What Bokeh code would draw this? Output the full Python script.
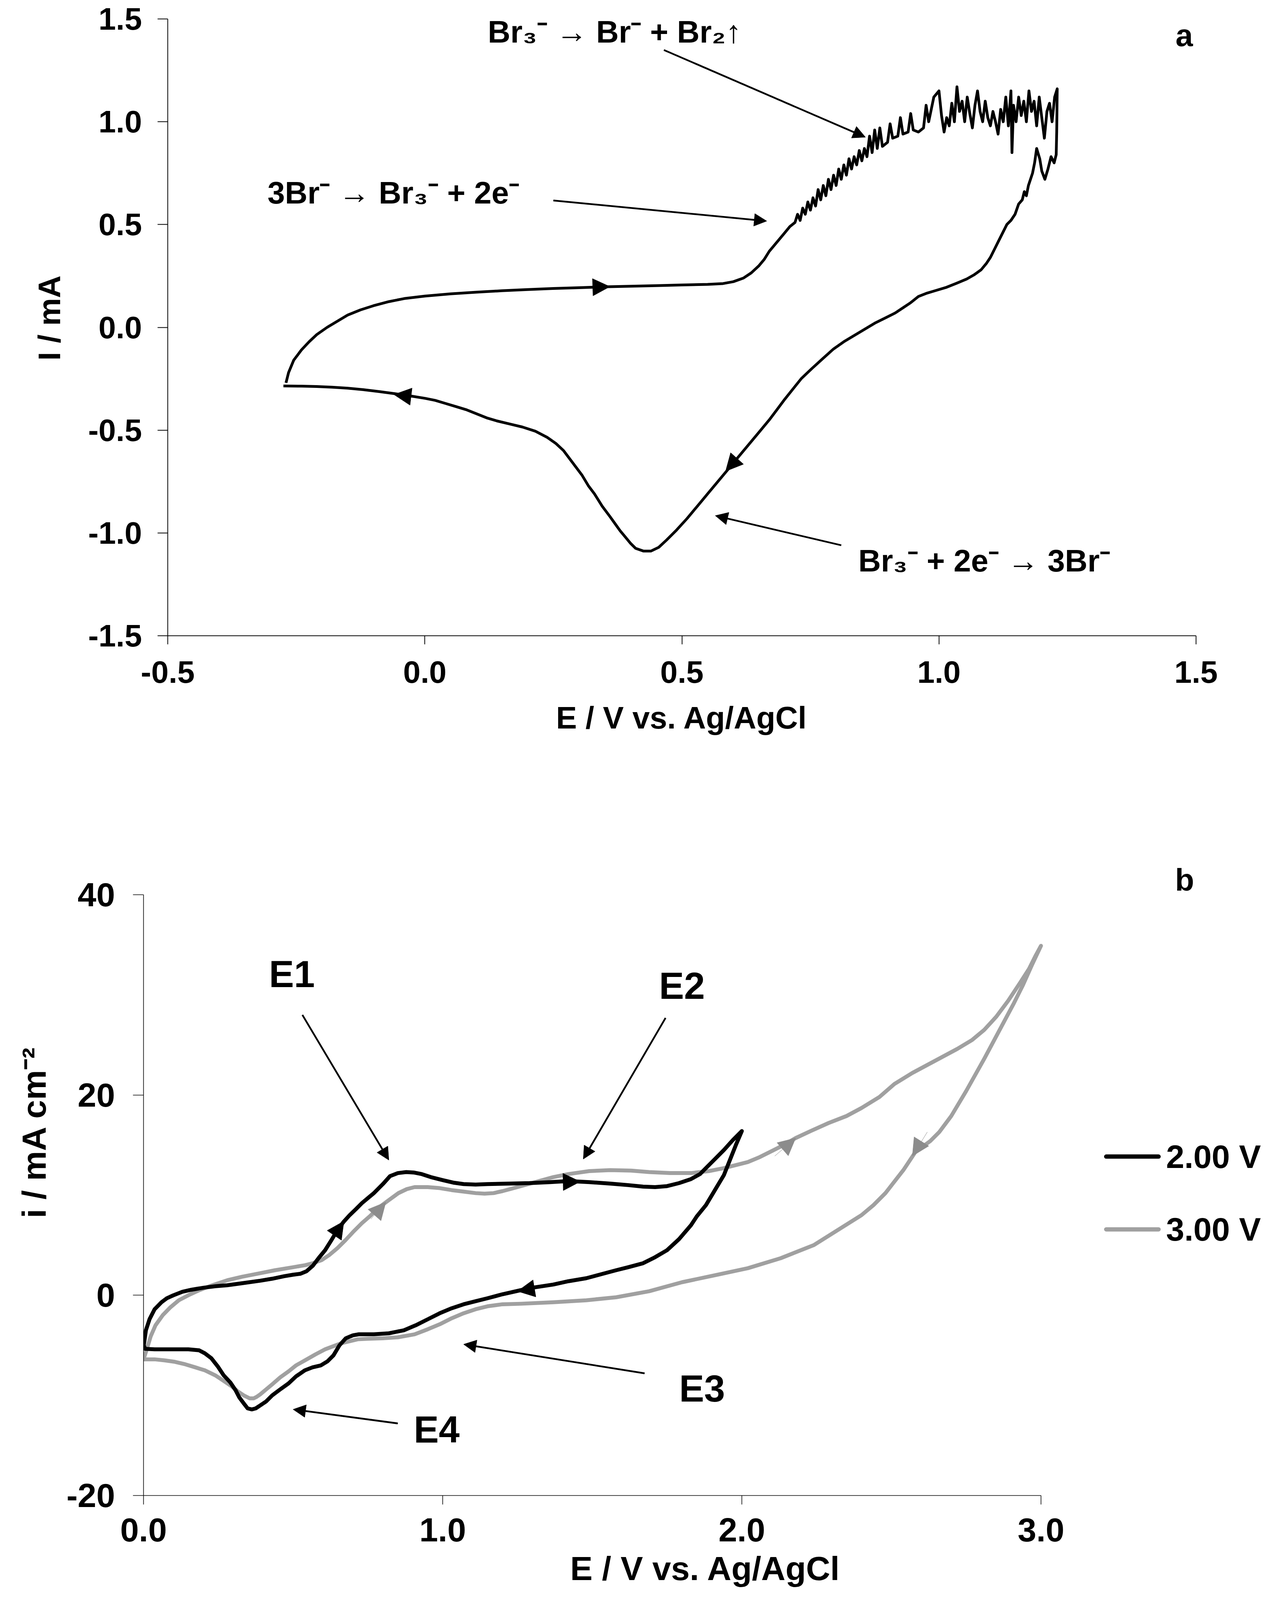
import numpy as np
from bokeh.plotting import figure
from bokeh.models import (Label, Arrow, NormalHead, FixedTicker, NumeralTickFormatter, Range1d)
from bokeh.embed import file_html
from bokeh.resources import INLINE

FONT = "Liberation Sans"

# ---------------- Panel a data ----------------
xticks_a = [-0.5, 0.0, 0.5, 1.0, 1.5]
yticks_a = [-1.5, -1.0, -0.5, 0.0, 0.5, 1.0, 1.5]

E_a_anodic = [-0.27, -0.265, -0.255, -0.24, -0.225, -0.21, -0.19, -0.17, -0.15, -0.125, -0.10, -0.07,
              -0.04, 0.00, 0.05, 0.10, 0.15, 0.20, 0.25, 0.30, 0.35, 0.40, 0.45, 0.50, 0.55, 0.58,
              0.60, 0.62, 0.635, 0.65, 0.66, 0.67, 0.68, 0.69, 0.70, 0.71, 0.72, 0.725, 0.73, 0.735,
              0.74, 0.745, 0.75, 0.755, 0.76, 0.765, 0.77, 0.775, 0.78, 0.785, 0.79, 0.795, 0.80,
              0.805, 0.81, 0.815, 0.82, 0.825, 0.83, 0.835, 0.84, 0.845, 0.85, 0.855, 0.86, 0.865,
              0.87, 0.875, 0.88, 0.885, 0.89, 0.90, 0.905, 0.91, 0.92, 0.925, 0.93, 0.94, 0.945,
              0.95, 0.96, 0.97, 0.975, 0.98, 0.99, 1.00, 1.005, 1.01, 1.015, 1.02, 1.025, 1.03,
              1.035, 1.04, 1.045, 1.05, 1.055, 1.06, 1.065, 1.07, 1.075, 1.08, 1.085, 1.09, 1.095,
              1.10, 1.105, 1.11, 1.115, 1.12, 1.125, 1.13, 1.135, 1.14, 1.142, 1.145, 1.15, 1.155,
              1.16, 1.165, 1.17, 1.175, 1.18, 1.185, 1.19, 1.195, 1.20, 1.205, 1.21, 1.215, 1.22,
              1.225, 1.23]
I_a_anodic = [-0.27, -0.22, -0.16, -0.11, -0.07, -0.035, 0.0, 0.03, 0.06, 0.085, 0.105, 0.125,
              0.14, 0.152, 0.163, 0.171, 0.178, 0.184, 0.189, 0.193, 0.197, 0.200, 0.203, 0.206,
              0.209, 0.213, 0.222, 0.24, 0.265, 0.30, 0.33, 0.37, 0.40, 0.43, 0.46, 0.49, 0.51,
              0.55, 0.52, 0.58, 0.55, 0.61, 0.57, 0.63, 0.59, 0.67, 0.62, 0.69, 0.64, 0.72, 0.67,
              0.74, 0.69, 0.77, 0.72, 0.79, 0.74, 0.82, 0.77, 0.83, 0.79, 0.86, 0.81, 0.87, 0.83,
              0.93, 0.85, 0.96, 0.87, 0.97, 0.88, 0.90, 0.99, 0.92, 0.93, 1.02, 0.94, 0.95, 1.04,
              0.96, 0.95, 0.97, 1.08, 1.00, 1.12, 1.15, 1.03, 0.95, 1.02, 0.98, 1.09, 1.00, 1.17,
              1.05, 1.10, 1.00, 1.12, 1.04, 0.97, 1.08, 1.15, 1.05, 1.00, 1.10, 1.02, 0.98, 1.05,
              1.00, 0.94, 1.06, 1.00, 1.12, 0.98, 1.15, 0.85, 1.08, 1.00, 1.12, 1.03, 1.10, 1.00,
              1.15, 1.05, 1.10, 0.98, 1.12, 1.02, 0.92, 1.05, 1.09, 1.00, 1.12, 1.16]

E_a_cathodic = [1.23, 1.229, 1.228, 1.224, 1.218, 1.212, 1.206, 1.20, 1.196, 1.19, 1.186, 1.182,
                1.178, 1.174, 1.17, 1.166, 1.162, 1.155, 1.148, 1.14, 1.132, 1.124, 1.116, 1.108,
                1.10, 1.092, 1.082, 1.068, 1.054, 1.035, 1.015, 0.995, 0.975, 0.96, 0.945, 0.93,
                0.915, 0.895, 0.875, 0.855, 0.835, 0.815, 0.795, 0.775, 0.753, 0.732, 0.716, 0.70,
                0.685, 0.67, 0.65, 0.63, 0.61, 0.59, 0.57, 0.55, 0.53, 0.51, 0.49, 0.47, 0.455,
                0.44, 0.425, 0.41, 0.40, 0.39, 0.38, 0.37, 0.36, 0.345, 0.33, 0.318, 0.306, 0.294,
                0.282, 0.27, 0.255, 0.238, 0.215, 0.19, 0.165, 0.14, 0.12, 0.10, 0.08, 0.06, 0.04,
                0.02, 0.00, -0.03, -0.06, -0.09, -0.12, -0.15, -0.18, -0.21, -0.24, -0.275]
I_a_cathodic = [1.16, 0.95, 0.84, 0.80, 0.83, 0.77, 0.72, 0.76, 0.82, 0.87, 0.80, 0.75, 0.72,
                0.69, 0.64, 0.66, 0.62, 0.60, 0.55, 0.52, 0.50, 0.46, 0.42, 0.38, 0.34, 0.31,
                0.28, 0.255, 0.235, 0.215, 0.195, 0.18, 0.165, 0.15, 0.12, 0.095, 0.07, 0.045,
                0.02, -0.01, -0.04, -0.07, -0.105, -0.15, -0.20, -0.25, -0.30, -0.35, -0.40,
                -0.45, -0.51, -0.57, -0.63, -0.69, -0.75, -0.81, -0.87, -0.93, -0.985, -1.035,
                -1.07, -1.088, -1.088, -1.075, -1.05, -1.02, -0.99, -0.955, -0.92, -0.87, -0.81,
                -0.77, -0.72, -0.68, -0.64, -0.60, -0.565, -0.535, -0.505, -0.485, -0.47, -0.455,
                -0.44, -0.42, -0.40, -0.385, -0.37, -0.355, -0.345, -0.333, -0.322, -0.312,
                -0.303, -0.296, -0.291, -0.288, -0.286, -0.285]

# ---------------- Panel b data ----------------
xticks_b = [0.0, 1.0, 2.0, 3.0]
yticks_b = [-20, 0, 20, 40]
series_b = ["2.00 V", "3.00 V"]

E_b2_fwd = [0.0, 0.008, 0.02, 0.037, 0.06, 0.078, 0.10, 0.13, 0.16, 0.20, 0.24, 0.28, 0.33, 0.39,
            0.43, 0.47, 0.50, 0.525, 0.545, 0.566, 0.585, 0.607, 0.628, 0.648, 0.668, 0.689, 0.71,
            0.73, 0.75, 0.77, 0.80, 0.824, 0.85, 0.878, 0.905, 0.93, 0.96, 1.00, 1.035, 1.07,
            1.11, 1.15, 1.22, 1.29, 1.36, 1.42, 1.49, 1.56, 1.62, 1.67, 1.71, 1.75, 1.79, 1.83,
            1.86, 1.88, 1.91, 1.94, 1.97, 2.0]
I_b2_fwd = [-5.2, -3.5, -2.4, -1.4, -0.7, -0.3, 0.0, 0.35, 0.55, 0.75, 0.9, 1.0, 1.2, 1.45, 1.65,
            1.9, 2.05, 2.15, 2.4, 2.95, 3.7, 4.5, 5.5, 6.5, 7.3, 8.0, 8.6, 9.2, 9.7, 10.2, 11.1,
            11.9, 12.2, 12.3, 12.25, 12.1, 11.8, 11.5, 11.25, 11.1, 11.05, 11.1, 11.15, 11.2,
            11.3, 11.4, 11.3, 11.15, 11.0, 10.85, 10.8, 10.9, 11.2, 11.6, 12.1, 12.7, 13.6,
            14.5, 15.5, 16.4]
E_b2_rev = [2.0, 1.98, 1.96, 1.94, 1.91, 1.88, 1.85, 1.83, 1.79, 1.75, 1.71, 1.67, 1.62, 1.58,
            1.53, 1.48, 1.42, 1.37, 1.31, 1.26, 1.20, 1.15, 1.11, 1.07, 1.03, 0.99, 0.95, 0.91,
            0.87, 0.82, 0.77, 0.72, 0.70, 0.676, 0.655, 0.635, 0.615, 0.593, 0.565, 0.539, 0.51,
            0.485, 0.457, 0.43, 0.41, 0.39, 0.375, 0.362, 0.348, 0.335, 0.32, 0.308, 0.29, 0.268,
            0.248, 0.227, 0.205, 0.186, 0.15, 0.118, 0.08, 0.037, 0.005, 0.0]
I_b2_rev = [16.4, 15.0, 13.5, 12.0, 10.5, 9.0, 7.9, 7.0, 5.6, 4.5, 3.8, 3.2, 2.8, 2.5, 2.1, 1.7,
            1.4, 1.07, 0.8, 0.5, 0.1, -0.3, -0.6, -0.9, -1.3, -1.8, -2.4, -3.0, -3.5, -3.8, -3.9,
            -3.9, -4.0, -4.3, -5.0, -6.0, -6.6, -7.0, -7.2, -7.5, -8.1, -8.8, -9.4, -10.0, -10.6,
            -11.0, -11.3, -11.4, -11.3, -10.8, -10.2, -9.5, -8.7, -8.0, -7.1, -6.3, -5.8, -5.5,
            -5.4, -5.4, -5.4, -5.4, -5.35, -4.9]

E_b3_fwd = [0.0, 0.012, 0.024, 0.04, 0.064, 0.09, 0.118, 0.15, 0.186, 0.23, 0.28, 0.33, 0.39,
            0.44, 0.50, 0.54, 0.566, 0.595, 0.62, 0.648, 0.675, 0.70, 0.73, 0.757, 0.784, 0.82,
            0.852, 0.88, 0.906, 0.95, 0.99, 1.03, 1.07, 1.11, 1.14, 1.17, 1.20, 1.25, 1.31, 1.37,
            1.42, 1.49, 1.56, 1.63, 1.69, 1.76, 1.83, 1.89, 1.94, 1.98, 2.02, 2.06, 2.10, 2.14,
            2.18, 2.23, 2.29, 2.35, 2.40, 2.46, 2.51, 2.57, 2.62, 2.67, 2.72, 2.77, 2.81, 2.85,
            2.89, 2.93, 2.96, 2.98, 3.0]
I_b3_fwd = [-6.4, -5.3, -4.1, -3.0, -2.0, -1.2, -0.5, 0.0, 0.5, 1.0, 1.5, 1.85, 2.2, 2.5, 2.8,
            3.0, 3.2, 3.5, 4.0, 4.7, 5.5, 6.3, 7.2, 7.9, 8.7, 9.5, 10.2, 10.6, 10.8, 10.8, 10.7,
            10.5, 10.35, 10.2, 10.15, 10.2, 10.4, 10.8, 11.3, 11.8, 12.1, 12.4, 12.5, 12.45,
            12.3, 12.2, 12.2, 12.4, 12.7, 13.0, 13.3, 13.8, 14.4, 15.0, 15.7, 16.4, 17.2, 17.9,
            18.7, 19.8, 21.1, 22.2, 23.0, 23.8, 24.6, 25.5, 26.5, 27.8, 29.4, 31.2, 32.6, 33.8,
            34.9]
E_b3_rev = [3.0, 2.97, 2.94, 2.91, 2.86, 2.81, 2.78, 2.75, 2.70, 2.66, 2.63, 2.58, 2.54, 2.48,
            2.44, 2.40, 2.32, 2.24, 2.13, 2.02, 1.91, 1.80, 1.69, 1.58, 1.48, 1.37, 1.26, 1.20,
            1.15, 1.11, 1.07, 1.03, 0.99, 0.95, 0.906, 0.85, 0.80, 0.75, 0.716, 0.66, 0.607,
            0.575, 0.54, 0.51, 0.485, 0.457, 0.43, 0.41, 0.39, 0.378, 0.368, 0.355, 0.335, 0.315,
            0.295, 0.265, 0.24, 0.205, 0.173, 0.14, 0.105, 0.07, 0.037, 0.0]
I_b3_rev = [34.9, 33.0, 31.0, 29.2, 26.4, 23.6, 22.0, 20.4, 17.9, 16.3, 15.4, 14.3, 12.5, 10.2,
            9.0, 8.0, 6.5, 5.0, 3.7, 2.7, 2.0, 1.3, 0.4, -0.2, -0.5, -0.7, -0.85, -0.9, -1.1,
            -1.4, -1.8, -2.3, -2.9, -3.4, -3.9, -4.2, -4.3, -4.35, -4.4, -4.8, -5.4, -5.9, -6.5,
            -7.0, -7.6, -8.2, -8.9, -9.4, -9.9, -10.15, -10.3, -10.3, -10.0, -9.6, -9.1, -8.5,
            -8.0, -7.5, -7.2, -6.9, -6.65, -6.5, -6.4, -6.4]

# ---------------- styling helpers ----------------
BLACK = "#000000"
GRAY = "#a0a0a0"
GRAY_HEAD = "#8c8c8c"


def style_axes(p, xticks, yticks, xfmt, yfmt, size, lw, std_x, std_y, tick_x, tick_y,
               xlabel, ylabel, lstd_x, lstd_y):
    for ax, ticks, fmt, std, lab_txt, lstd, tl in (
            (p.xaxis[0], xticks, xfmt, std_x, xlabel, lstd_x, tick_x),
            (p.yaxis[0], yticks, yfmt, std_y, ylabel, lstd_y, tick_y)):
        ax.ticker = FixedTicker(ticks=ticks)
        ax.formatter = NumeralTickFormatter(format=fmt)
        ax.axis_line_width = lw
        ax.axis_line_color = BLACK
        ax.major_tick_line_width = lw
        ax.major_tick_line_color = BLACK
        ax.major_tick_out = tl
        ax.major_tick_in = 0
        ax.minor_tick_line_color = None
        ax.major_label_text_font = FONT
        ax.major_label_text_font_style = "bold"
        ax.major_label_text_font_size = size
        ax.major_label_text_color = BLACK
        ax.major_label_standoff = std
        ax.axis_label = lab_txt
        ax.axis_label_text_font = FONT
        ax.axis_label_text_font_style = "bold"
        ax.axis_label_text_font_size = size
        ax.axis_label_text_color = BLACK
        ax.axis_label_standoff = lstd
    p.xgrid.visible = False
    p.ygrid.visible = False
    p.outline_line_color = None
    p.background_fill_color = "white"
    p.border_fill_color = "white"


def lab(p, x, y, text, size, align="left", baseline="middle"):
    p.add_layout(Label(x=x, y=y, text=text, text_font=FONT, text_font_size=size,
                       text_font_style="bold", text_align=align, text_baseline=baseline,
                       text_color=BLACK))


def pointer(p, xs, ys, xe, ye, head=32, lw=4.5):
    p.add_layout(Arrow(end=NormalHead(size=head, fill_color=BLACK, line_color=BLACK, line_width=1),
                       x_start=xs, y_start=ys, x_end=xe, y_end=ye,
                       line_width=lw, line_color=BLACK))


def direction(p, xs, ys, xe, ye, color, head=44):
    p.add_layout(Arrow(end=NormalHead(size=head, fill_color=color, line_color=color, line_width=1),
                       x_start=xs, y_start=ys, x_end=xe, y_end=ye,
                       line_color=color, line_width=1))


PAGE_W = 3250

# ---------------- Panel a ----------------
# frame reaches the top of the canvas (room for the upper annotation); axis bounded to -1.5..1.5
A_H, A_BOT, A_LEFT, A_FW, A_PAD = 1963, 336, 429, 2633, 48
a_ppu = (A_H - A_BOT - A_PAD) / 3.0
a_y_end = 1.5 + A_PAD / a_ppu
p1 = figure(width=PAGE_W, height=A_H,
            x_range=Range1d(-0.5, 1.5), y_range=Range1d(-1.5, a_y_end),
            min_border_left=A_LEFT, min_border_right=PAGE_W - A_LEFT - A_FW,
            min_border_top=0, min_border_bottom=A_BOT,
            output_backend="svg", toolbar_location=None)
style_axes(p1, xticks_a, yticks_a, "0.0", "0.0", "80px", 2, 43, 40, 22, 26,
           "E / V vs. Ag/AgCl", "I / mA", 42, 52)
p1.yaxis[0].bounds = (-1.5, 1.5)

p1.line(E_a_anodic + E_a_cathodic, I_a_anodic + I_a_cathodic, line_color=BLACK, line_width=7,
        line_join="round")

lab(p1, 1.477, 1.42, "a", "80px", align="center")

# reaction annotations
lab(p1, 0.369, 1.437, "Br\u2083\u207b \u2192 Br\u207b + Br\u2082\u2191", "80px", align="center")
lab(p1, -0.061, 0.654, "3Br\u207b \u2192 Br\u2083\u207b + 2e\u207b", "80px", align="center")
lab(p1, 1.088, -1.135, "Br\u2083\u207b + 2e\u207b \u2192 3Br\u207b", "80px", align="center")
pointer(p1, 0.465, 1.349, 0.857, 0.925)
pointer(p1, 0.25, 0.617, 0.665, 0.517)
pointer(p1, 0.81, -1.06, 0.565, -0.916)

# scan direction
direction(p1, 0.30, 0.193, 0.36, 0.198, BLACK)
direction(p1, 0.0, -0.345, -0.06, -0.327, BLACK)
direction(p1, 0.628, -0.58, 0.585, -0.70, BLACK)

# ---------------- Panel b ----------------
# frame extends right past E = 3.0 and above 40 so the key and panel letter sit inside it;
# both axes are bounded to the data extent shown in the original
B_H, B_TOP, B_BOT, B_LEFT = 2144, 5, 279, 367
b_ppu_x = 766.0
b_frame_w = PAGE_W - B_LEFT - 5
b_x_end = b_frame_w / b_ppu_x
b_ppu_y = 1538.0 / 60.0
b_frame_h = B_H - B_TOP - B_BOT
b_y_end = -20 + b_frame_h / b_ppu_y
p2 = figure(width=PAGE_W, height=B_H,
            x_range=Range1d(0.0, b_x_end), y_range=Range1d(-20, b_y_end),
            min_border_left=B_LEFT, min_border_right=5, min_border_top=B_TOP,
            min_border_bottom=B_BOT,
            output_backend="svg", toolbar_location=None)
style_axes(p2, xticks_b, yticks_b, "0.0", "0", "86px", 1.6, 35, 46, 23, 27,
           "E / V vs. Ag/AgCl", "i / mA cm\u207b\u00b2", 18, 32)
p2.xaxis[0].bounds = (0.0, 3.0)
p2.yaxis[0].bounds = (-20, 40)

p2.line(E_b3_fwd + E_b3_rev, I_b3_fwd + I_b3_rev, line_color=GRAY, line_width=10,
        line_join="round")
p2.line(E_b2_fwd + E_b2_rev, I_b2_fwd + I_b2_rev, line_color=BLACK, line_width=10,
        line_join="round")

# series key (right of the plotted region)
key_x = [3.218, 3.393]
key_y = [13.85, 6.58]
for name, ky, col in zip(series_b, key_y, [BLACK, GRAY]):
    p2.line(key_x, [ky, ky], line_color=col, line_width=11, line_cap="round")
    lab(p2, 3.418, ky, name, "84px")

lab(p2, 3.48, 41.5, "b", "80px", align="center")

lab(p2, 0.496, 32.07, "E1", "96px", align="center")
lab(p2, 1.80, 30.9, "E2", "96px", align="center")
lab(p2, 1.867, -9.3, "E3", "96px", align="center")
lab(p2, 0.98, -13.4, "E4", "96px", align="center")
pointer(p2, 0.531, 28.0, 0.82, 13.5)
pointer(p2, 1.745, 27.7, 1.47, 13.6)
pointer(p2, 1.675, -7.8, 1.07, -4.9)
pointer(p2, 0.85, -12.8, 0.50, -11.4)

direction(p2, 0.62, 5.2, 0.67, 7.4, BLACK)
direction(p2, 1.38, 11.3, 1.46, 11.35, BLACK)
direction(p2, 1.33, 0.8, 1.25, 0.4, BLACK)
direction(p2, 0.76, 7.6, 0.81, 9.3, GRAY_HEAD)
direction(p2, 2.11, 13.9, 2.18, 15.7, GRAY_HEAD)
direction(p2, 2.62, 16.3, 2.57, 13.9, GRAY_HEAD)

# two independent roots stacked on the page (keeps each panel's own frame geometry)
open("out.html", "w").write(file_html([p1, p2], INLINE))
